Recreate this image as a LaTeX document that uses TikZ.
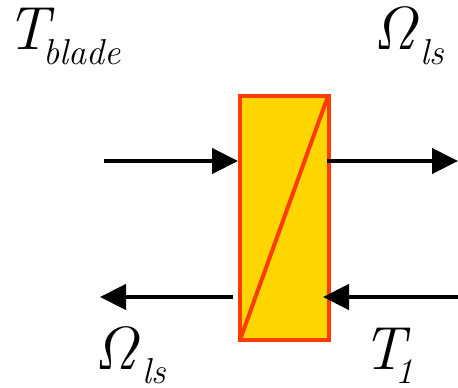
\RequirePackage{fix-cm}
\documentclass[tikz,border=0pt]{standalone}
\usetikzlibrary{arrows.meta}
\definecolor{boxfill}{RGB}{255,214,0}
\definecolor{boxline}{RGB}{255,60,0}
\tikzset{
  big/.style={inner sep=0pt, anchor=base west, font=\fontsize{61}{61}\selectfont\itshape},
  small/.style={inner sep=0pt, anchor=base west, font=\fontsize{36}{36}\selectfont\itshape},
  flow/.style={line width=4.5pt, -{Triangle[length=26pt,width=25pt]}},
}
\begin{document}
\begin{tikzpicture}[x=1pt,y=1pt]
\useasboundingbox (0,0) rectangle (458,388);
\node[draw=boxline, fill=boxfill, line width=4pt, minimum width=89pt, minimum height=244pt, inner sep=0pt] (box) at (284.5,170) {};
\draw[boxline, line width=4pt] ([shift={(2pt,2pt)}]box.south west) -- ([shift={(-3pt,-2pt)}]box.north east);
\coordinate (tl) at (104,227);
\coordinate (tr) at (458,227);
\coordinate (bl) at (100,91);
\coordinate (br) at (458,91);
\draw[flow] (tl) -- (box.west |- tl);
\draw[flow] ([xshift=-4pt]box.east |- tr) -- (tr);
\draw[flow] ([xshift=-5pt]box.west |- bl) -- (bl);
\draw[flow] (br) -- ([xshift=-8pt]box.east |- br);
\node[big] (tb) at (6,338) {T};
\node[small] (tbs) at (43,323) {blade};
\node[big] (ow) at (373,338) {$\mathit{\Omega}$};
\node[small] (ows) at (420,323) {ls};
\node[big] (ob) at (94,18) {$\mathit{\Omega}$};
\node[small] (obs) at (142,4) {ls};
\node[big] (t1) at (362,18) {T};
\node[small] (t1s) at (395,4) {1};
\end{tikzpicture}
\end{document}
